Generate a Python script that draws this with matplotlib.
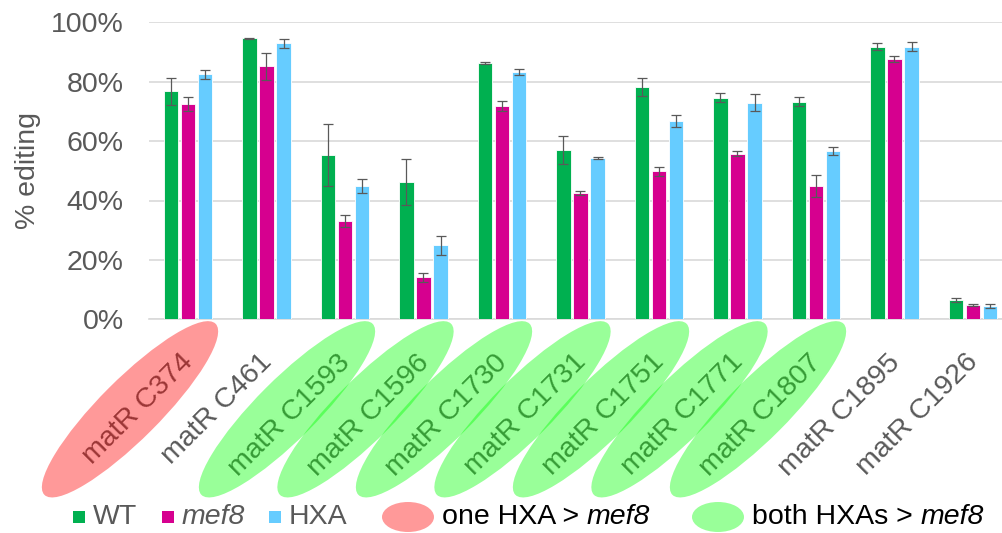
import numpy as np
import matplotlib
matplotlib.use('Agg')
import matplotlib.pyplot as plt
from matplotlib.patches import Ellipse, Rectangle
from matplotlib.transforms import IdentityTransform, ScaledTranslation

plt.rcParams['font.family'] = ['Liberation Sans', 'DejaVu Sans']

sites = ['matR C374', 'matR C461', 'matR C1593', 'matR C1596', 'matR C1730', 'matR C1731',
         'matR C1751', 'matR C1771', 'matR C1807', 'matR C1895', 'matR C1926']
wt = [76.8, 94.6, 55.3, 46.2, 86.3, 57.0, 78.3, 74.6, 73.3, 91.8, 6.5]
wt_err = [4.6, 0.2, 10.3, 7.8, 0.2, 4.8, 3.0, 1.5, 1.6, 1.2, 0.7]
mef8 = [72.6, 85.2, 33.1, 14.1, 71.8, 42.5, 49.9, 55.7, 44.9, 87.8, 4.9]
mef8_err = [2.4, 4.5, 2.1, 1.5, 1.7, 0.6, 1.5, 0.8, 3.6, 1.0, 0.4]
hxa = [82.5, 92.9, 44.9, 24.9, 83.2, 54.4, 66.8, 72.9, 56.6, 91.8, 4.6]
hxa_err = [1.6, 1.5, 2.5, 3.1, 1.0, 0.3, 1.9, 2.9, 1.4, 1.5, 0.7]
# which sites get a highlight behind their label
highlight = ['one', None, 'both', 'both', 'both', 'both', 'both', 'both', 'both', None, None]

GREEN = '#00B050'
MAGENTA = '#D6008F'
BLUE = '#66CCFF'
GRAY = '#595959'
FS = 20.5

W, H = 1003, 533
fig = plt.figure(figsize=(W / 100, H / 100), dpi=100)
ax_left, ax_right, ax_top, ax_bot = 148.75, 1012.25, 22.3, 319.3
ax = fig.add_axes([ax_left / W, 1 - ax_bot / H, (ax_right - ax_left) / W, (ax_bot - ax_top) / H])

x = np.arange(len(sites))
bw = 0.19
off = 0.217
err_kw = dict(ecolor=GRAY, elinewidth=0.9, capsize=3.5, capthick=0.9)
ax.bar(x - off, wt, bw, yerr=wt_err, color=GREEN, edgecolor='white', linewidth=0.6, error_kw=err_kw, zorder=3)
ax.bar(x, mef8, bw, yerr=mef8_err, color=MAGENTA, edgecolor='white', linewidth=0.6, error_kw=err_kw, zorder=3)
ax.bar(x + off, hxa, bw, yerr=hxa_err, color=BLUE, edgecolor='white', linewidth=0.6, error_kw=err_kw, zorder=3)

ax.set_xlim(-0.5, len(sites) - 0.5)
ax.set_ylim(0, 100)
ax.set_yticks(range(0, 101, 20))
ax.set_yticklabels([f'{v}%' for v in range(0, 101, 20)])
ax.yaxis.grid(True, color='#D9D9D9', linewidth=1.2, zorder=0)
ax.set_axisbelow(True)
for s in ['top', 'right', 'left']:
    ax.spines[s].set_visible(False)
ax.spines['bottom'].set_color('#D9D9D9')
ax.spines['bottom'].set_linewidth(1.2)
ax.tick_params(axis='y', length=0, pad=18, labelsize=FS, labelcolor=GRAY)
ax.tick_params(axis='x', length=0, pad=18, labelsize=FS, labelcolor=GRAY)
ax.set_xticks(x)
ax.set_xticklabels(sites, rotation=45, ha='right', va='top', rotation_mode='anchor')
shift = ScaledTranslation(-8 / 100, -5 / 100, fig.dpi_scale_trans)
for lab in ax.get_xticklabels():
    lab.set_transform(lab.get_transform() + shift)

fig.text(28 / W, 1 - 171 / H, '% editing', rotation=90, ha='center', va='center',
         fontsize=FS, color=GRAY)

# highlight ellipses over the category labels
for i, h in enumerate(highlight):
    if h is None:
        continue
    px, py = ax.transData.transform((x[i], 0))
    col = (1, 0, 0, 0.4) if h == 'one' else (0, 1, 0, 0.4)
    fig.add_artist(Ellipse((px - 58, py - 90), 242, 60, angle=45, facecolor=col,
                           edgecolor='none', transform=IdentityTransform(), zorder=5))

# legend row
ly = 517
for cx, col, label, italic in [(79, GREEN, 'WT', False), (168, MAGENTA, 'mef8', True), (275, BLUE, 'HXA', False)]:
    fig.add_artist(Rectangle((cx - 6, H - ly - 6), 12, 12, facecolor=col, edgecolor='none',
                             transform=IdentityTransform()))
    fig.text((cx + 14) / W, 1 - ly / H, label, ha='left', va='center', fontsize=FS,
             color=GRAY, style='italic' if italic else 'normal')

renderer = fig.canvas.get_renderer()
for cx, col, label in [(408, '#FF9999', 'one HXA > '), (718, '#99FF99', 'both HXAs > ')]:
    fig.add_artist(Ellipse((cx, H - ly), 52, 30, facecolor=col, edgecolor='none',
                           transform=IdentityTransform()))
    t = fig.text((cx + 34) / W, 1 - ly / H, label, ha='left', va='center', fontsize=FS, color='black')
    x1 = t.get_window_extent(renderer).x1
    fig.text(x1 / W, 1 - ly / H, 'mef8', ha='left', va='center', fontsize=FS, color='black',
             style='italic')

fig.savefig('out.png', dpi=100)
